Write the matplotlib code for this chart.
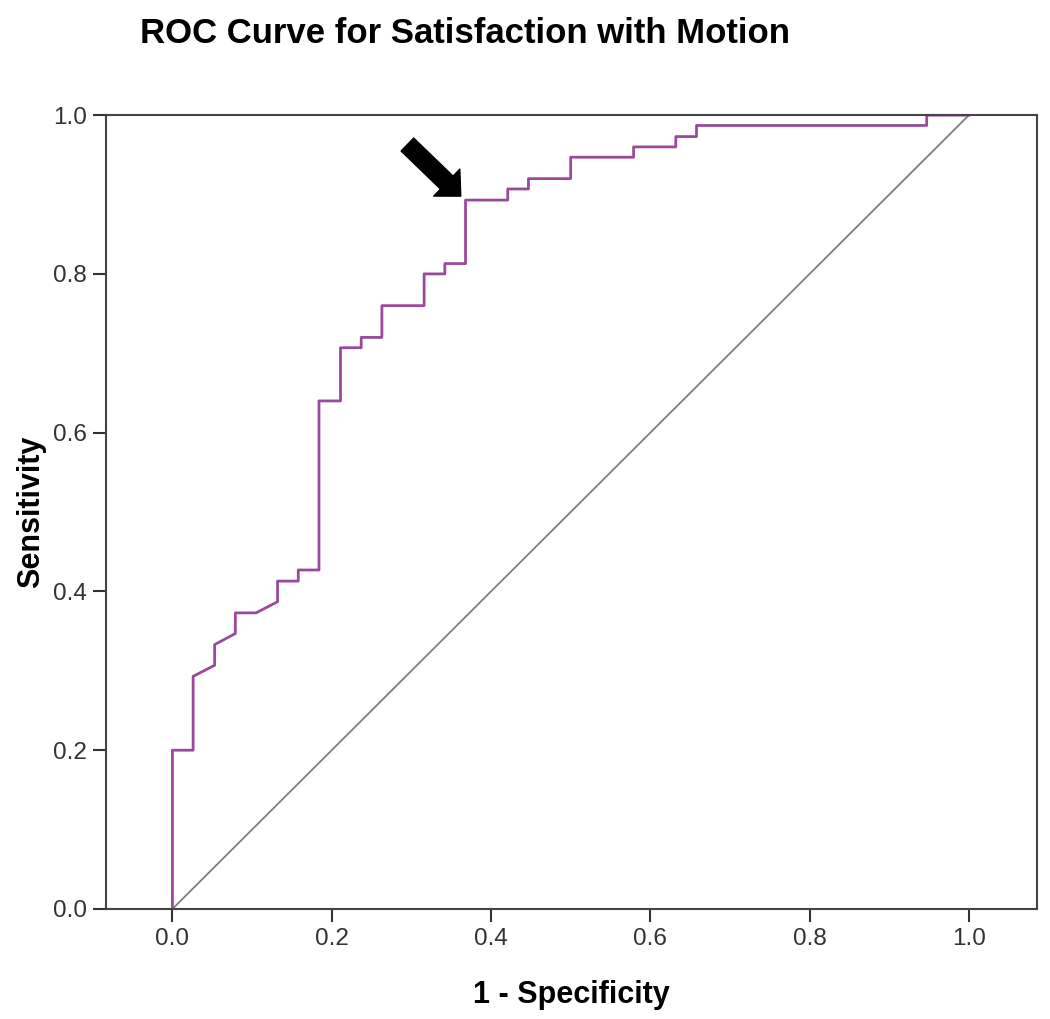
import matplotlib.pyplot as plt

# ROC curve points
fpr = [0, 0, 0.026, 0.026, 0.053, 0.053, 0.079, 0.079, 0.105, 0.132, 0.132,
       0.158, 0.158, 0.184, 0.184, 0.211, 0.211, 0.237, 0.237, 0.263, 0.263,
       0.316, 0.316, 0.342, 0.342, 0.368, 0.368, 0.421, 0.421, 0.447, 0.447,
       0.5, 0.5, 0.579, 0.579, 0.632, 0.632, 0.658, 0.658, 0.947, 0.947, 1.0]
tpr = [0, 0.2, 0.2, 0.293, 0.307, 0.333, 0.347, 0.373, 0.373, 0.387, 0.413,
       0.413, 0.427, 0.427, 0.64, 0.64, 0.707, 0.707, 0.72, 0.72, 0.76,
       0.76, 0.8, 0.8, 0.813, 0.813, 0.893, 0.893, 0.907, 0.907, 0.92,
       0.92, 0.947, 0.947, 0.96, 0.96, 0.973, 0.973, 0.987, 0.987, 1.0, 1.0]
ref_line = [0, 1]
ticks = [0.0, 0.2, 0.4, 0.6, 0.8, 1.0]
tick_labels = ["0.0", "0.2", "0.4", "0.6", "0.8", "1.0"]
arrow_tip = (0.362, 0.898)
arrow_tail = (0.295, 0.963)

plt.rcParams["font.family"] = ["Liberation Sans", "DejaVu Sans"]

fig = plt.figure(figsize=(10.5, 10.19), dpi=100)
ax = fig.add_axes([0.1005, 0.108, 0.8875, 0.779])

ax.plot(ref_line, ref_line, color="#7f7f7f", lw=1.3)
ax.plot(fpr, tpr, color="#9a4a9c", lw=2.0)

ax.annotate("", xy=arrow_tip, xytext=arrow_tail,
            arrowprops=dict(facecolor="black", edgecolor="black", width=13,
                            headwidth=27, headlength=14, shrink=0))

ax.set_xlim(-0.084, 1.086)
ax.set_ylim(0, 1)
ax.set_xticks(ticks)
ax.set_xticklabels(tick_labels)
ax.set_yticks(ticks)
ax.set_yticklabels(tick_labels)
ax.tick_params(length=9.5, width=1.5, color="#333333", labelsize=17.5,
               labelcolor="#333333", pad=4)
for s in ax.spines.values():
    s.set_color("#444444")
    s.set_linewidth(1.5)

ax.set_xlabel("1 - Specificity", fontsize=22, fontweight="bold", labelpad=22)
ax.set_ylabel("Sensitivity", fontsize=22, fontweight="bold", labelpad=5)
fig.text(0.133, 0.967, "ROC Curve for Satisfaction with Motion", fontsize=25,
         fontweight="bold", ha="left", va="center")

fig.savefig("out.png", dpi=100)
